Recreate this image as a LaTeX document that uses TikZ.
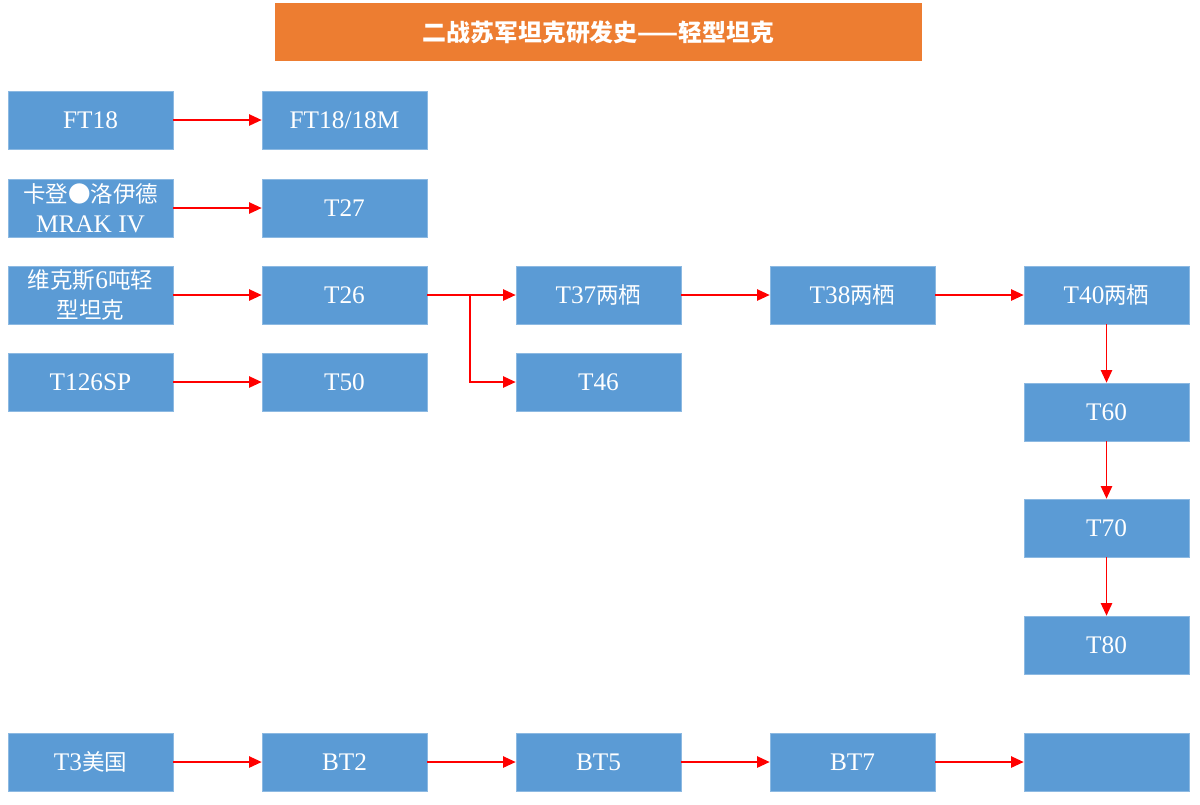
\documentclass[tikz,border=0pt]{standalone}
\usepackage{fontspec}
\setmainfont{Liberation Serif}
\newfontfamily\cjk{Noto Sans CJK SC}
\newcommand{\zh}[1]{{\cjk\fontsize{16}{21}\selectfont #1}}
\usetikzlibrary{arrows.meta,positioning}
\definecolor{boxblue}{HTML}{5B9BD5}
\definecolor{titleorange}{HTML}{ED7D31}
\tikzset{tank/.style={fill=boxblue,draw=boxblue!70!white,minimum width=4.125cm,minimum height=1.45cm,
    text=white,font=\fontsize{18}{21}\selectfont,align=center,inner sep=1pt},
  evol/.style={red,line width=1.3pt,-{Triangle[length=9pt,width=8pt]}}}
\begin{document}
\begin{tikzpicture}[x=0.025cm,y=-0.025cm]
\useasboundingbox (0,0) rectangle (1200,804);
\node[fill=titleorange,minimum width=16.175cm,minimum height=1.43cm,text=white,
  font=\cjk\bfseries\fontsize{17}{21}\selectfont] (title) at (598.5,32) {二战苏军坦克研发史——轻型坦克};
% light tanks, first lines
\node[tank] (ft18) at (90.5,120) {FT18};
\node[tank] (ft18m) at (344.5,120) {FT18/18M};
\node[tank] (mrak) at (90.5,208) {\zh{卡登●洛伊德}\\MRAK IV};
\node[tank] (t27) at (344.5,208) {T27};
\node[tank] (vick) at (90.5,295) {\zh{维克斯}6\zh{吨轻}\\\zh{型坦克}};
\node[tank] (t26) at (344.5,295) {T26};
\node[tank] (t37) at (598.5,295) {T37\zh{两栖}};
\node[tank] (t38) at (852.5,295) {T38\zh{两栖}};
\node[tank] (t40) at (1106.5,295) {T40\zh{两栖}};
\node[tank] (t126) at (90.5,382) {T126SP};
\node[tank] (t50) at (344.5,382) {T50};
\node[tank] (t46) at (598.5,382) {T46};
\node[tank] (t60) at (1106.5,412) {T60};
\node[tank] (t70) at (1106.5,528) {T70};
\node[tank] (t80) at (1106.5,645) {T80};
% BT line
\node[tank] (t3) at (90.5,762) {T3\zh{美国}};
\node[tank] (bt2) at (344.5,762) {BT2};
\node[tank] (bt5) at (598.5,762) {BT5};
\node[tank] (bt7) at (852.5,762) {BT7};
\node[tank] (bt7m) at (1106.5,762) {};
\coordinate (fork) at (470,295);
\draw[evol] (ft18) -- (ft18m);
\draw[evol] (mrak) -- (t27);
\draw[evol] (vick) -- (t26);
\draw[evol] (t26) -- (t37);
\draw[evol] (t26.east) -- (fork) |- (t46);
\draw[evol] (t37) -- (t38);
\draw[evol] (t38) -- (t40);
\draw[evol] (t126) -- (t50);
\draw[evol] (t40) -- (t60);
\draw[evol] (t60) -- (t70);
\draw[evol] (t70) -- (t80);
\draw[evol] (t3) -- (bt2);
\draw[evol] (bt2) -- (bt5);
\draw[evol] (bt5) -- (bt7);
\draw[evol] (bt7) -- (bt7m);
\end{tikzpicture}
\end{document}
